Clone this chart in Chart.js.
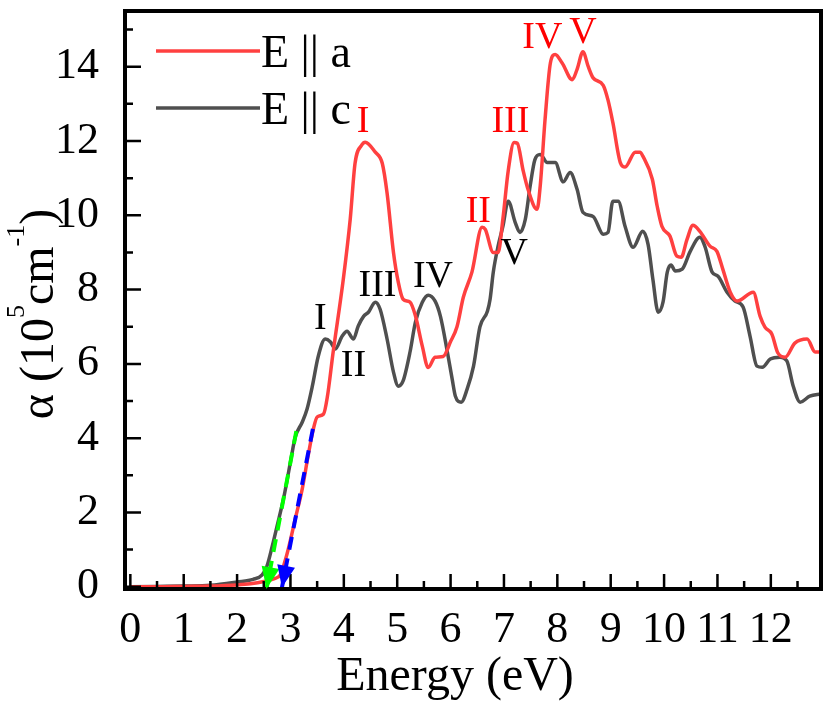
<!DOCTYPE html>
<html>
<head>
<meta charset="utf-8">
<script src="https://cdn.jsdelivr.net/npm/chart.js@4.4.1/dist/chart.umd.min.js"></script>
<style>
html, body { margin: 0; padding: 0; background: #fff; }
canvas { display: block; }
</style>
</head>
<body>
<canvas id="absChart" width="831" height="707"></canvas>
<script>
// Absorption spectra, values (alpha in 1e5 cm^-1)
const energyA = [0, 0.5, 1.0, 1.5, 2.0, 2.25, 2.5, 2.7, 2.81, 2.9, 2.96, 3.09, 3.22, 3.33, 3.43, 3.5, 3.62, 3.69, 3.8, 3.99,
  4.12, 4.21, 4.34, 4.40, 4.59, 4.72, 4.81, 4.93, 5.02, 5.11, 5.24, 5.34, 5.47, 5.58, 5.71, 5.86, 6.0, 6.12, 6.24, 6.4,
  6.59, 6.65, 6.8, 6.89, 6.98, 7.08, 7.19, 7.25, 7.36, 7.45, 7.62, 7.68, 7.77, 7.87, 7.96, 8.09, 8.28, 8.37, 8.48, 8.58,
  8.67, 8.86, 8.95, 9.04, 9.18, 9.27, 9.46, 9.55, 9.6, 9.78, 9.87, 9.96, 10.11, 10.24, 10.32, 10.43, 10.54, 10.67, 10.86, 10.99,
  11.1, 11.24, 11.37, 11.67, 11.8, 11.89, 12.02, 12.13, 12.27, 12.45, 12.68, 12.83, 12.94];
const alphaA = [0, 0, 0.01, 0.02, 0.05, 0.08, 0.14, 0.22, 0.32, 0.7, 1.02, 1.83, 2.63, 3.52, 4.25, 4.57, 4.65, 5.1, 6.32, 8.28,
  9.9, 11.4, 11.9, 11.97, 11.7, 11.4, 10.6, 9.0, 8.2, 7.74, 7.66, 7.3, 6.48, 5.9, 6.18, 6.2, 6.6, 7.0, 7.8, 8.47,
  9.68, 9.62, 9.0, 9.0, 9.9, 11.2, 11.96, 11.94, 11.2, 10.7, 10.16, 10.8, 12.58, 14.1, 14.33, 14.1, 13.65, 13.93, 14.4, 14.0,
  13.7, 13.5, 13.1, 12.5, 11.42, 11.3, 11.7, 11.7, 11.6, 10.97, 10.25, 9.7, 9.44, 8.9, 8.87, 9.35, 9.73, 9.57, 9.17, 9.03,
  8.55, 7.93, 7.69, 7.93, 7.28, 6.99, 6.8, 6.3, 6.18, 6.56, 6.67, 6.32, 6.32];

const energyC = [0, 0.5, 1.0, 1.5, 2.0, 2.3, 2.47, 2.56, 2.66, 2.75, 2.87, 3.0, 3.09, 3.22, 3.31, 3.41, 3.52, 3.65, 3.75, 3.84,
  3.97, 4.06, 4.18, 4.27, 4.37, 4.46, 4.59, 4.68, 4.81, 4.93, 5.02, 5.11, 5.24, 5.34, 5.47, 5.58, 5.71, 5.81, 5.94, 6.03,
  6.09, 6.2, 6.31, 6.43, 6.55, 6.69, 6.74, 6.8, 6.89, 6.98, 7.08, 7.21, 7.3, 7.4, 7.49, 7.58, 7.68, 7.81, 7.96, 8.11,
  8.24, 8.37, 8.48, 8.67, 8.86, 8.95, 9.04, 9.14, 9.27, 9.42, 9.6, 9.7, 9.79, 9.89, 9.98, 10.06, 10.13, 10.21, 10.34, 10.49,
  10.67, 10.77, 10.9, 11.01, 11.18, 11.33, 11.48, 11.61, 11.74, 11.84, 11.99, 12.17, 12.3, 12.42, 12.55, 12.73, 12.94];
const alphaC = [0, 0.01, 0.02, 0.04, 0.13, 0.2, 0.32, 0.56, 1.1, 1.64, 2.37, 3.36, 4.03, 4.43, 4.78, 5.4, 6.2, 6.67, 6.59, 6.4,
  6.75, 6.88, 6.67, 7.02, 7.28, 7.39, 7.66, 7.47, 6.67, 5.78, 5.4, 5.54, 6.32, 7.12, 7.66, 7.85, 7.69, 7.28, 6.32, 5.59,
  5.13, 4.97, 5.32, 5.94, 7.0, 7.42, 7.74, 8.47, 9.17, 9.7, 10.38, 9.81, 9.54, 9.89, 10.78, 11.5, 11.64, 11.42, 11.42, 10.9,
  11.15, 10.7, 10.08, 9.97, 9.49, 9.54, 10.38, 10.38, 9.7, 9.14, 9.57, 9.22, 8.28, 7.39, 7.66, 8.47, 8.66, 8.5, 8.55, 9.03,
  9.41, 9.14, 8.47, 8.36, 7.93, 7.69, 7.53, 6.75, 5.94, 5.91, 6.13, 6.18, 6.08, 5.4, 4.97, 5.13, 5.19];

// extrapolation lines (top point, then arrow tip on the axis)
const greenFitE = [3.11, 2.55];
const greenFitAlpha = [4.19, -0.06];
const blueFitE = [3.42, 2.84];
const blueFitAlpha = [4.25, -0.02];

// peak labels
const peakNamesA = ['I', 'II', 'III', 'IV', 'V'];
const peakEnergyA = [4.36, 6.52, 7.12, 7.72, 8.48];
const peakAlphaA = [12.5, 10.08, 12.5, 14.78, 14.92];
const peakNamesC = ['I', 'II', 'III', 'IV', 'V'];
const peakEnergyC = [3.56, 4.18, 4.63, 5.67, 7.19];
const peakAlphaC = [7.2, 5.94, 8.09, 8.33, 8.95];

const xTickValues = [0, 1, 2, 3, 4, 5, 6, 7, 8, 9, 10, 11, 12];
const yTickValues = [0, 2, 4, 6, 8, 10, 12, 14];

const xTitle = 'Energy (eV)';
// y title pieces: [text, superscript?]
const yTitleParts = [['α (10', false], ['5', true], ['cm', false], ['-1', true], [')', false]];

const SERIF = "'Liberation Serif', 'Times New Roman', serif";
const RED_LINE = '#ff4040';
const GREY_LINE = '#4f4f4f';

function toPoints(xs, ys) {
    return xs.map((x, i) => ({ x: x, y: ys[i] }));
}

// no extra room for half-labels at the axis ends
function fixBox(s, size) {
    if (s.isHorizontal()) s.height = size; else s.width = size;
    s.paddingTop = 0;
    s.paddingBottom = 0;
    s.paddingLeft = 0;
    s.paddingRight = 0;
}

// inward ticks + box frame
const frameTicks = {
    id: 'frameTicks',
    afterDatasetsDraw(chart) {
        const { ctx, chartArea: a, scales: { x, y } } = chart;
        ctx.save();
        ctx.strokeStyle = '#000';
        ctx.lineWidth = 2.5;
        ctx.beginPath();
        for (let v = 0; v <= 12.5; v += 0.5) {
            const px = x.getPixelForValue(v);
            const len = (v % 1 === 0) ? 15 : 8;
            ctx.moveTo(px, a.bottom);
            ctx.lineTo(px, a.bottom - len);
        }
        for (let v = 0; v <= 15; v += 1) {
            const py = y.getPixelForValue(v);
            const len = (v % 2 === 0) ? 16 : 8;
            ctx.moveTo(a.left, py);
            ctx.lineTo(a.left + len, py);
        }
        ctx.stroke();
        ctx.lineWidth = 4;
        ctx.strokeRect(a.left, a.top, a.right - a.left, a.bottom - a.top);
        ctx.restore();
    }
};

// arrow heads at the end of the fit lines
const arrowHeads = {
    id: 'arrowHeads',
    afterDatasetsDraw(chart) {
        const ctx = chart.ctx;
        chart.data.datasets.forEach((ds, i) => {
            if (!ds.arrow) return;
            const pts = chart.getDatasetMeta(i).data;
            const p0 = pts[pts.length - 2], p1 = pts[pts.length - 1];
            const ang = Math.atan2(p1.y - p0.y, p1.x - p0.x);
            const len = 22, half = 9;
            const bx = p1.x - len * Math.cos(ang), by = p1.y - len * Math.sin(ang);
            ctx.save();
            ctx.fillStyle = ds.borderColor;
            ctx.beginPath();
            ctx.moveTo(p1.x, p1.y);
            ctx.lineTo(bx + half * Math.sin(ang), by - half * Math.cos(ang));
            ctx.lineTo(bx - half * Math.sin(ang), by + half * Math.cos(ang));
            ctx.closePath();
            ctx.fill();
            ctx.restore();
        });
    }
};

// roman numeral peak labels
const peakLabels = {
    id: 'peakLabels',
    afterDatasetsDraw(chart) {
        const { ctx, scales: { x, y } } = chart;
        ctx.save();
        ctx.font = '38px ' + SERIF;
        ctx.textAlign = 'center';
        ctx.textBaseline = 'middle';
        ctx.fillStyle = '#ff0000';
        peakNamesA.forEach((t, i) => ctx.fillText(t, x.getPixelForValue(peakEnergyA[i]), y.getPixelForValue(peakAlphaA[i])));
        ctx.fillStyle = '#000';
        peakNamesC.forEach((t, i) => ctx.fillText(t, x.getPixelForValue(peakEnergyC[i]), y.getPixelForValue(peakAlphaC[i])));
        ctx.restore();
    }
};

// legend drawn inside the plot, line then text
const innerLegend = {
    id: 'innerLegend',
    afterDraw(chart) {
        const { ctx, chartArea: a } = chart;
        const rows = [chart.data.datasets[2], chart.data.datasets[3]];
        ctx.save();
        ctx.font = '46px ' + SERIF;
        ctx.textBaseline = 'alphabetic';
        ctx.fillStyle = '#000';
        rows.forEach((ds, i) => {
            const ly = a.top + 40 + i * 57;
            ctx.strokeStyle = ds.borderColor;
            ctx.lineWidth = 3.5;
            ctx.beginPath();
            ctx.moveTo(a.left + 31, ly);
            ctx.lineTo(a.left + 135, ly);
            ctx.stroke();
            ctx.fillText(ds.label, a.left + 136, ly + 16);
        });
        ctx.restore();
    }
};

// axis titles (the original sits a bit off-centre, and has real superscripts)
const axisTitles = {
    id: 'axisTitles',
    afterDraw(chart) {
        const { ctx, chartArea: a } = chart;
        ctx.save();
        ctx.fillStyle = '#000';
        ctx.textBaseline = 'alphabetic';
        ctx.font = '48px ' + SERIF;
        ctx.textAlign = 'center';
        ctx.fillText(xTitle, a.left + 330, 690);

        const mainFont = '48px ' + SERIF, supFont = '26px ' + SERIF;
        let total = 0;
        const widths = yTitleParts.map(([t, sup]) => {
            ctx.font = sup ? supFont : mainFont;
            const w = ctx.measureText(t).width;
            total += w;
            return w;
        });
        ctx.translate(53, a.top + 303);
        ctx.rotate(-Math.PI / 2);
        ctx.textAlign = 'left';
        let pos = -total / 2;
        yTitleParts.forEach(([t, sup], i) => {
            ctx.font = sup ? supFont : mainFont;
            ctx.fillText(t, pos, sup ? -29 : 0);
            pos += widths[i];
        });
        ctx.restore();
    }
};

const ctx = document.getElementById('absChart').getContext('2d');
const absChart = new Chart(ctx, {
    type: 'line',
    data: {
        datasets: [
            {
                label: 'green fit',
                data: toPoints(greenFitE, greenFitAlpha),
                borderColor: '#00ff00',
                borderWidth: 4,
                borderDash: [13, 9],
                pointRadius: 0,
                arrow: true
            },
            {
                label: 'blue fit',
                data: toPoints(blueFitE, blueFitAlpha),
                borderColor: '#0000ff',
                borderWidth: 4,
                borderDash: [13, 9],
                pointRadius: 0,
                arrow: true
            },
            {
                label: 'E || a',
                data: toPoints(energyA, alphaA),
                borderColor: RED_LINE,
                borderWidth: 3.5,
                pointRadius: 0,
                cubicInterpolationMode: 'monotone'
            },
            {
                label: 'E || c',
                data: toPoints(energyC, alphaC),
                borderColor: GREY_LINE,
                borderWidth: 3.5,
                pointRadius: 0,
                cubicInterpolationMode: 'monotone'
            }
        ]
    },
    options: {
        responsive: false,
        animation: false,
        layout: { padding: { top: 11, right: 10, left: 0, bottom: 0 } },
        plugins: {
            legend: { display: false },
            tooltip: { enabled: false }
        },
        scales: {
            x: {
                type: 'linear',
                min: -0.1,
                max: 12.94,
                afterBuildTicks: s => { s.ticks = xTickValues.map(v => ({ value: v })); },
                afterFit: s => fixBox(s, 118),
                grid: { display: false },
                border: { display: false },
                ticks: {
                    color: '#000',
                    font: { family: SERIF, size: 44 },
                    padding: 7,
                    maxRotation: 0,
                    autoSkip: false
                },
                title: { display: false }
            },
            y: {
                min: -0.06,
                max: 15.5,
                afterBuildTicks: s => { s.ticks = yTickValues.map(v => ({ value: v })); },
                afterFit: s => fixBox(s, 125),
                grid: { display: false },
                border: { display: false },
                ticks: {
                    color: '#000',
                    font: { family: SERIF, size: 44 },
                    padding: 18
                },
                title: { display: false }
            }
        }
    },
    plugins: [frameTicks, arrowHeads, peakLabels, innerLegend, axisTitles]
});
</script>
</body>
</html>
